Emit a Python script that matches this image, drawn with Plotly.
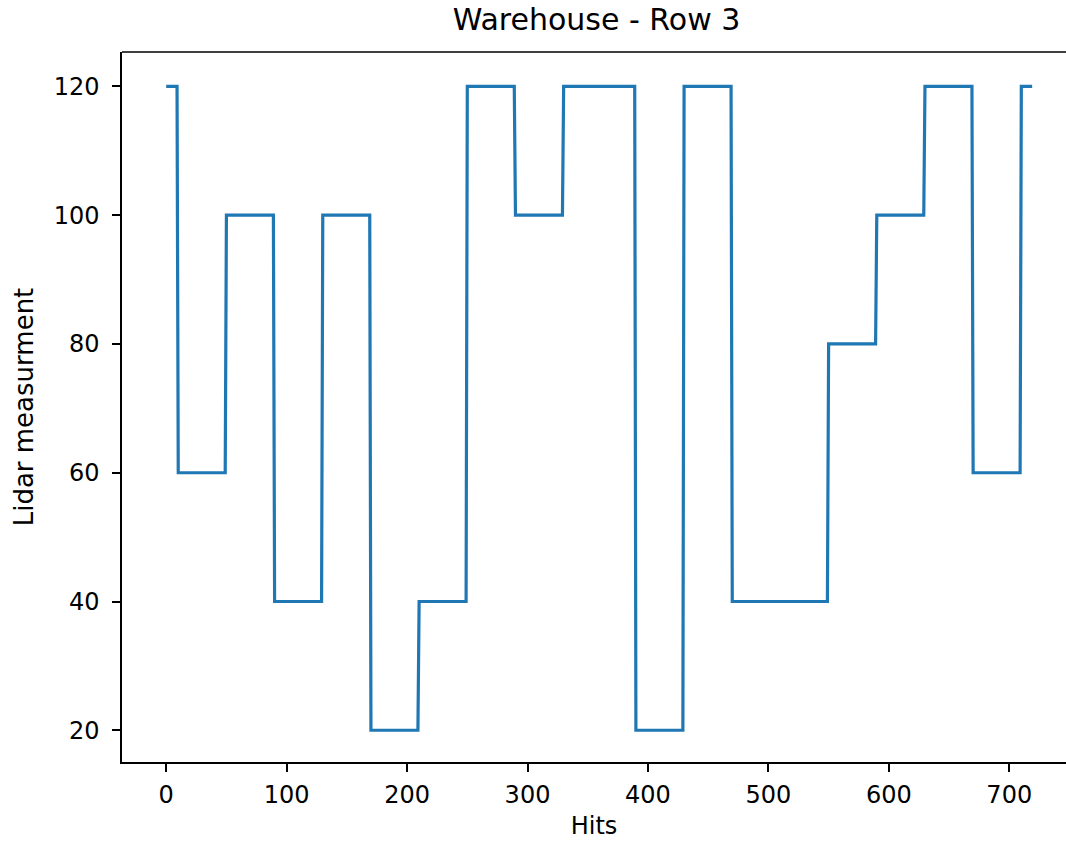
import numpy as np
import plotly.graph_objects as go

# Segment start hits and the lidar level read for each segment
seg_start = [0, 10, 50, 90, 130, 170, 210, 250, 290, 330, 390, 430, 470, 550, 590, 630, 670, 710]
seg_level = [120, 60, 100, 40, 100, 20, 40, 120, 100, 120, 20, 120, 40, 80, 100, 120, 60, 120]
n_hits = 720

x_ticks = [0, 100, 200, 300, 400, 500, 600, 700]
y_ticks = [20, 40, 60, 80, 100, 120]

lengths = np.diff(seg_start + [n_hits])
hits = np.arange(n_hits)
lidar = np.repeat(seg_level, lengths)

FONT = "DejaVu Sans"
W, H = 1066, 848
L, R, T, B = 122, 0, 52, 86
PW = W - L - R

fig = go.Figure()
fig.add_trace(go.Scatter(x=hits, y=lidar, mode="lines",
                         line=dict(color="#1f77b4", width=3.2)))

fig.update_layout(
    width=W, height=H,
    margin=dict(l=L, r=R, t=T, b=B),
    plot_bgcolor="white", paper_bgcolor="white",
    showlegend=False,
    font=dict(family=FONT, color="#000000", size=24),
    title=dict(text="Warehouse - Row 3", x=(596.5 - L) / PW, xref="paper",
               xanchor="center", y=1 - 19 / H, yref="container", yanchor="middle",
               font=dict(family=FONT, size=30, color="#000000")),
)
fig.update_xaxes(range=[-36.7, 747.1], tickvals=x_ticks, ticktext=[str(v) for v in x_ticks],
                 showgrid=False, zeroline=False, showline=True, linecolor="black", linewidth=1.5,
                 ticks="outside", ticklen=8, tickwidth=1.5, tickcolor="black",
                 ticklabelstandoff=2,
                 tickfont=dict(family=FONT, size=24),
                 title=dict(text="Hits", font=dict(family=FONT, size=24), standoff=10))
fig.update_yaxes(range=[15.07, 125.35], tickvals=y_ticks, ticktext=[str(v) for v in y_ticks],
                 showgrid=False, zeroline=False, showline=True, linecolor="black", linewidth=1.5,
                 ticks="outside", ticklen=8, tickwidth=1.5, tickcolor="black",
                 ticklabelstandoff=8,
                 tickfont=dict(family=FONT, size=24),
                 title=dict(text="Lidar measurment", font=dict(family=FONT, size=26), standoff=13))
fig.add_shape(type="line", xref="paper", yref="paper", x0=0, x1=1, y0=1, y1=1,
              line=dict(color="black", width=1.5))

fig.write_html("out.html", config={"displayModeBar": False},
               post_script="document.body.style.margin='0';document.body.style.overflow='hidden';")
